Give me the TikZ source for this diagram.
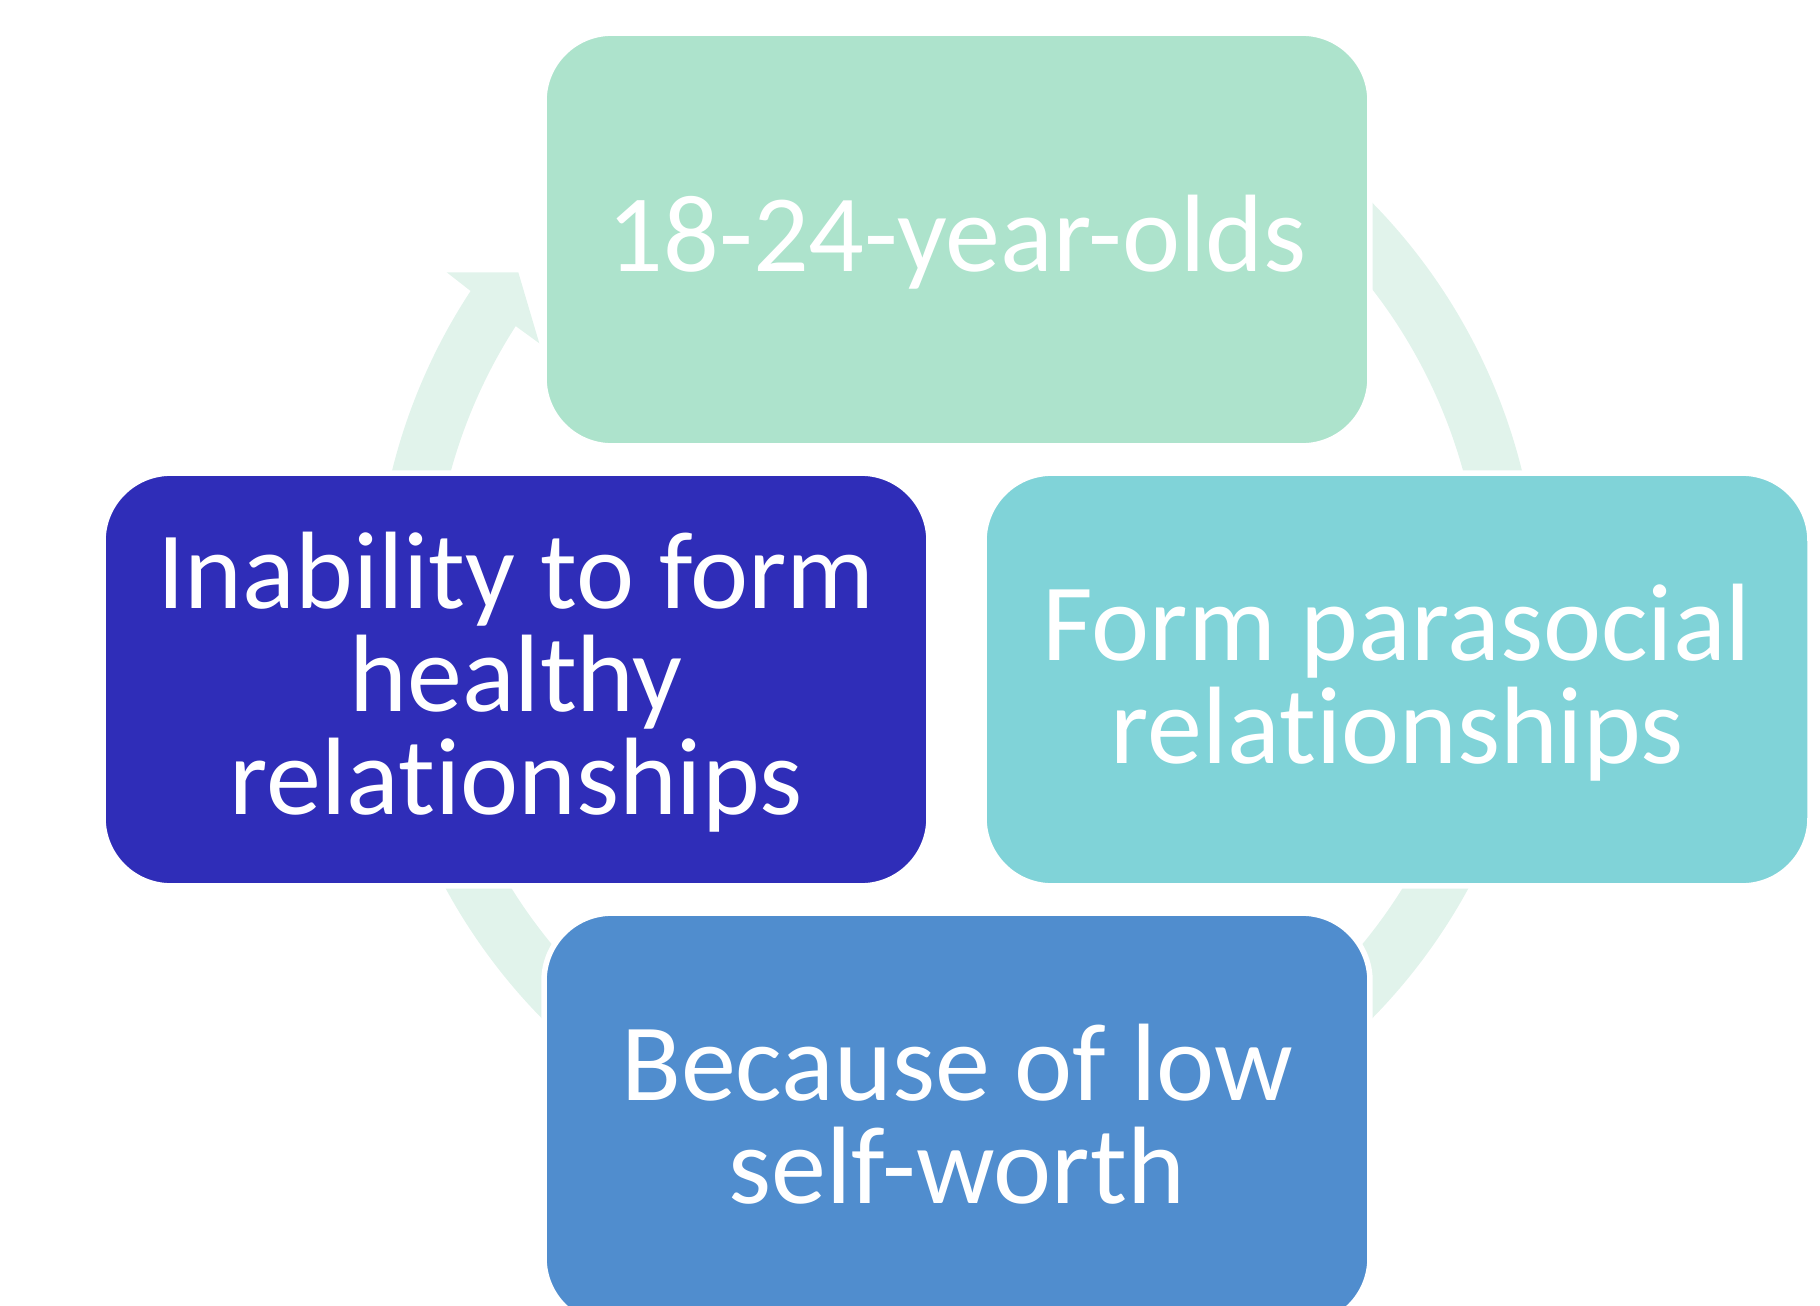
\documentclass[tikz,border=0pt]{standalone}
\usepackage{fontspec}
\setmainfont{Carlito}[Ligatures=NoCommon]
\usetikzlibrary{calc}
\definecolor{cTop}{HTML}{ADE3CC}
\definecolor{cRight}{HTML}{80D3D8}
\definecolor{cLeft}{HTML}{2F2DB8}
\definecolor{cBottom}{HTML}{508DCE}
\definecolor{cArc}{HTML}{E1F3EB}
\newcommand{\topstrut}{\rule{0pt}{26.4pt}}
\newcommand{\botstrut}{\rule[-8pt]{0pt}{8pt}}
\begin{document}
\begin{tikzpicture}[x=0.01cm,y=-0.01cm,
  stagebox/.style={rectangle, rounded corners=0.6775cm, draw=white, line width=0.055cm,
    minimum width=8.255cm, minimum height=4.125cm, inner sep=0pt, text=white, align=center,
    font={\fontsize{31.3}{29.3}\selectfont}},
  arcband/.style={fill=cArc}]
\clip (0,0) rectangle (1820,1306);
\coordinate (c) at (957,610.5);
% cycle arrows (drawn beneath the boxes)
\fill[arcband] ($(c)+(190:582)$) arc[start angle=190,end angle=213.3,radius=582]
  -- (446.7,272.3) -- (518.3,272.3) -- (539.3,343.3)
  -- ($(c)+(212.8:525)$) arc[start angle=212.8,end angle=190,radius=525] -- cycle;
\fill[arcband] ($(c)+(300:582)$) arc[start angle=300,end angle=360,radius=582]
  -- ($(c)+(0:525)$) arc[start angle=360,end angle=300,radius=525] -- cycle;
\fill[arcband] ($(c)+(20:582)$) arc[start angle=20,end angle=75,radius=582]
  -- ($(c)+(75:525)$) arc[start angle=75,end angle=20,radius=525] -- cycle;
\fill[arcband] ($(c)+(105:582)$) arc[start angle=105,end angle=160,radius=582]
  -- ($(c)+(160:525)$) arc[start angle=160,end angle=105,radius=525] -- cycle;
% boxes
\node[stagebox, fill=cTop] (n1) at (957,239.5)
  {\topstrut 18-24-year-olds\botstrut};
\node[stagebox, fill=cRight] (n2) at (1397,679.5)
  {\topstrut Form parasocial\\relationships\botstrut};
\node[stagebox, fill=cBottom] (n3) at (957,1119.5)
  {\topstrut Because of low\\self-worth\botstrut};
\node[stagebox, fill=cLeft] (n4) at (516,679.5)
  {\topstrut Inability to form\\healthy\\relationships\botstrut};
\end{tikzpicture}
\end{document}
